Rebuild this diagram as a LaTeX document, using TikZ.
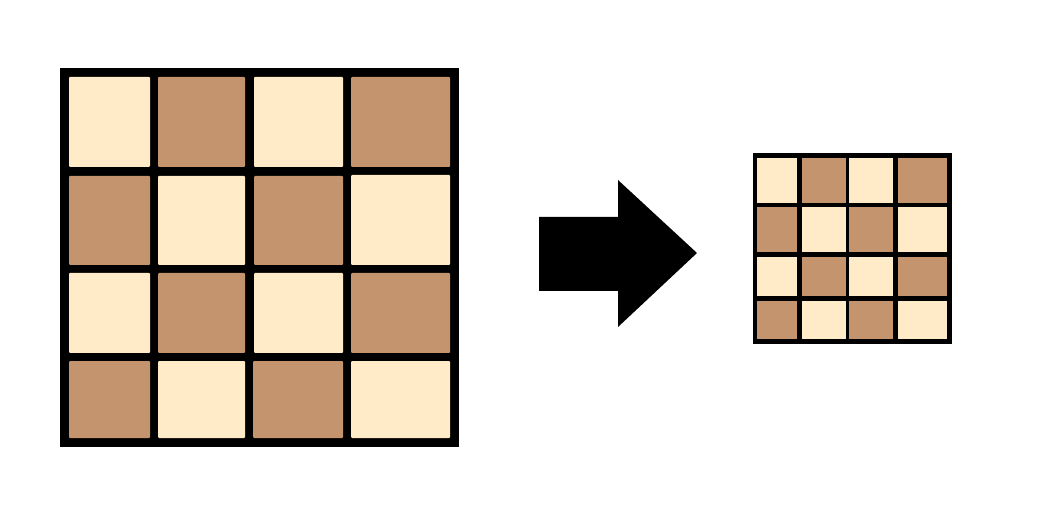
\documentclass[tikz,border=0pt]{standalone}
\definecolor{lightsq}{HTML}{FFEBC7}
\definecolor{darksq}{HTML}{C4946F}
\tikzset{
  frame/.style={fill=black},
  lsq/.style={fill=lightsq, rounded corners=1pt},
  dsq/.style={fill=darksq, rounded corners=1pt},
  lsqs/.style={fill=lightsq},
  dsqs/.style={fill=darksq}
}
\begin{document}
\begin{tikzpicture}[x=1pt,y=-1pt]
\useasboundingbox (0,0) rectangle (1039,521);
\fill[white] (0,0) rectangle (1039,521);
% large board
\fill[frame] (60,68) rectangle (459,447);
\fill[lsq] (69,77) rectangle (150,167);
\fill[dsq] (158,77) rectangle (245,167);
\fill[lsq] (254,77) rectangle (343,167);
\fill[dsq] (351,77) rectangle (450,167);
\fill[dsq] (69,176) rectangle (150,265);
\fill[lsq] (158,176) rectangle (245,265);
\fill[dsq] (254,176) rectangle (343,265);
\fill[lsq] (351,175) rectangle (450,265);
\fill[lsq] (69,273) rectangle (150,353);
\fill[dsq] (158,273) rectangle (245,353);
\fill[lsq] (254,273) rectangle (343,353);
\fill[dsq] (351,273) rectangle (450,353);
\fill[dsq] (69,361) rectangle (150,438);
\fill[lsq] (158,361) rectangle (245,438);
\fill[dsq] (253,361) rectangle (343,438);
\fill[lsq] (351,361) rectangle (450,438);
% arrow
\fill[black] (539,217) -- (618,217) -- (618,180) -- (697,253) -- (618,327) -- (618,291) -- (539,291) -- cycle;
% small board
\fill[frame] (753,153) rectangle (952,344);
\fill[lsqs] (757,158) rectangle (797,203);
\fill[dsqs] (802,158) rectangle (846,203);
\fill[lsqs] (849,158) rectangle (893,203);
\fill[dsqs] (898,158) rectangle (947,203);
\fill[dsqs] (757,207) rectangle (797,252);
\fill[lsqs] (802,207) rectangle (846,252);
\fill[dsqs] (849,207) rectangle (893,252);
\fill[lsqs] (898,207) rectangle (947,252);
\fill[lsqs] (757,257) rectangle (797,296);
\fill[dsqs] (802,257) rectangle (846,296);
\fill[lsqs] (849,257) rectangle (893,296);
\fill[dsqs] (898,257) rectangle (947,296);
\fill[dsqs] (757,301) rectangle (797,339);
\fill[lsqs] (802,301) rectangle (846,339);
\fill[dsqs] (849,301) rectangle (893,339);
\fill[lsqs] (898,301) rectangle (947,339);
\end{tikzpicture}
\end{document}
